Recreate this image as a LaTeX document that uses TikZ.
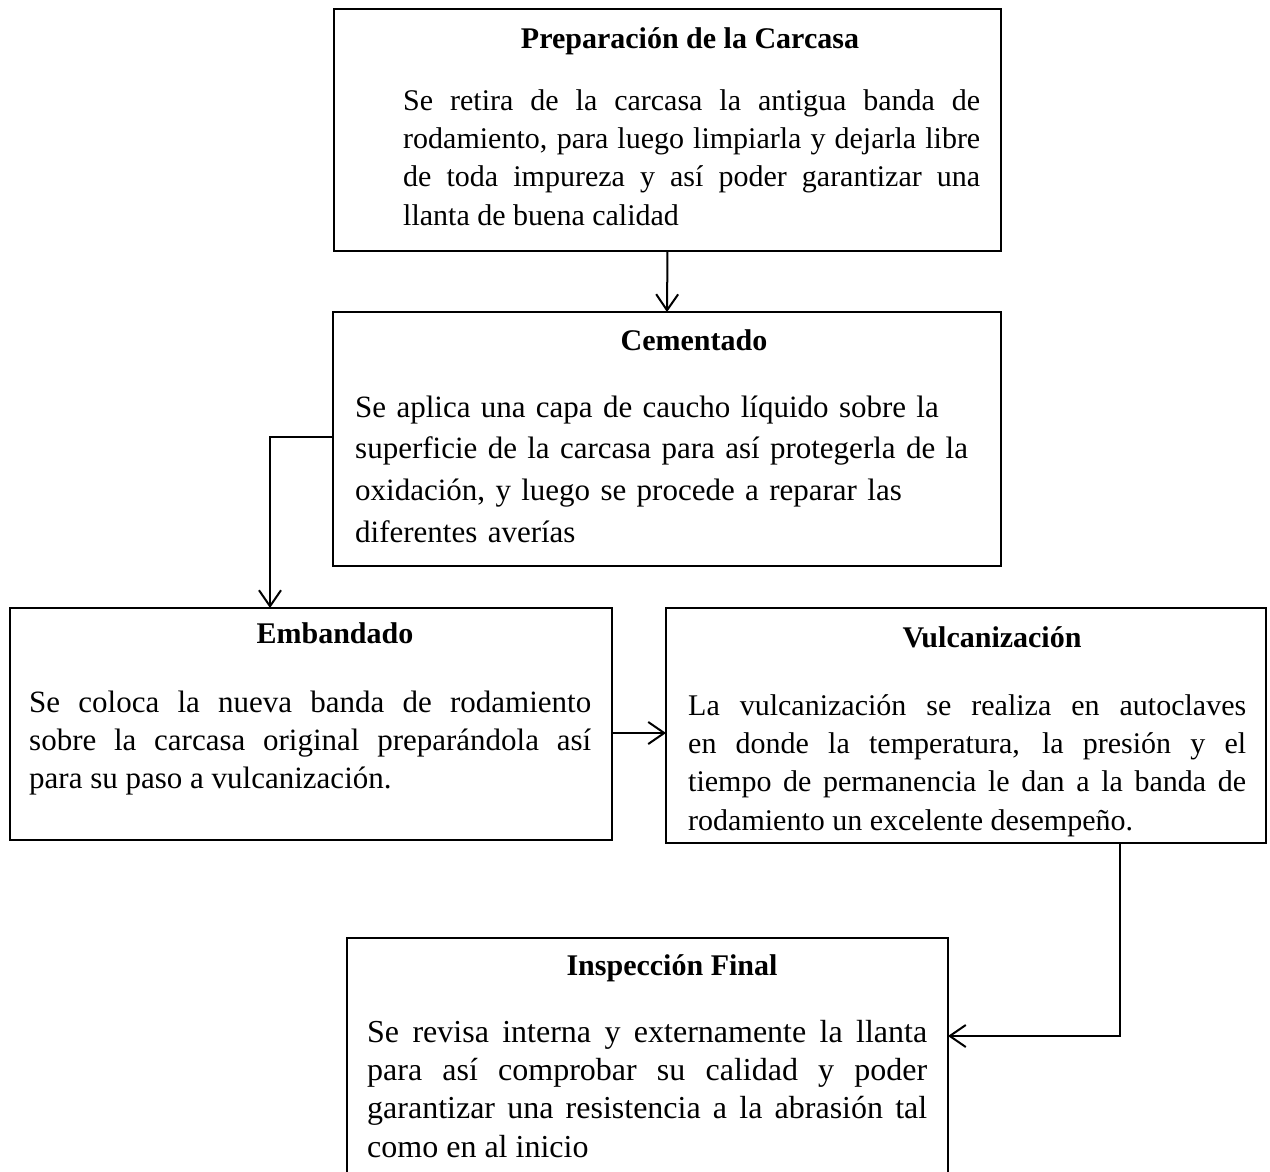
\documentclass[tikz,border=0pt]{standalone}
\usepackage{fontspec}
\setmainfont{Liberation Serif}
\usetikzlibrary{arrows.meta}
\begin{document}
\begin{tikzpicture}[x=1pt,y=-1pt,
  box/.style={draw, line width=2pt, rectangle, inner sep=0pt, outer sep=0pt, anchor=north west},
  ttl/.style={font=\fontsize{30}{36}\selectfont\bfseries, anchor=base, inner sep=0pt},
  bodyj/.style={anchor=north west, inner sep=0pt, align=justify},
  bodyl/.style={anchor=north west, inner sep=0pt, align=left},
  conn/.style={line width=2pt, -{Straight Barb[length=16pt,width=22pt,line width=2pt]}}]
\useasboundingbox (0,0) rectangle (1270,1171);

% boxes
\node[box, minimum width=667pt, minimum height=242pt] (prep) at (334,9) {};
\node[box, minimum width=668pt, minimum height=254pt] (cem) at (333,312) {};
\node[box, minimum width=602pt, minimum height=232pt] (emb) at (10,608) {};
\node[box, minimum width=600pt, minimum height=235pt] (vul) at (666,608) {};
\node[box, minimum width=601pt, minimum height=250pt] (insp) at (347,938) {};

% titles
\node[ttl] (prepH) at (690,48) {Preparación de la Carcasa};
\node[ttl] (cemH) at (694,350) {Cementado};
\node[ttl] (embH) at (335,643) {Embandado};
\node[ttl] (vulH) at (992,647) {Vulcanización};
\node[ttl] (inspH) at (672,975) {Inspección Final};

% bodies
\node[bodyj, text width=577pt, font=\fontsize{30}{38.4}\selectfont] (prepB) at (403,83.1)
  {\strut Se retira de la carcasa la antigua banda de\linebreak
   rodamiento, para luego limpiarla y dejarla libre\linebreak
   de toda impureza y así poder garantizar una\linebreak
   llanta de buena calidad};
\node[bodyl, text width=640pt, font=\fontsize{31}{41.7}\selectfont] (cemB) at (355,387.8)
  {\strut Se aplica una capa de caucho líquido sobre la\\
   superficie de la carcasa para así protegerla de la\\
   oxidación, y luego se procede a reparar las\\
   diferentes averías};
\node[bodyj, text width=562pt, font=\fontsize{31}{38}\selectfont] (embB) at (29,685.4)
  {\strut Se coloca la nueva banda de rodamiento\linebreak
   sobre la carcasa original preparándola así\linebreak
   para su paso a vulcanización.};
\node[bodyj, text width=558pt, font=\fontsize{30}{38.4}\selectfont] (vulB) at (688,688.1)
  {\strut La vulcanización se realiza en autoclaves\linebreak
   en donde la temperatura, la presión y el\linebreak
   tiempo de permanencia le dan a la banda de\linebreak
   rodamiento un excelente desempeño.};
\node[bodyj, text width=560pt, font=\fontsize{32}{38.3}\selectfont] (inspB) at (367,1015.2)
  {\strut Se revisa interna y externamente la llanta\linebreak
   para así comprobar su calidad y poder\linebreak
   garantizar una resistencia a la abrasión tal\linebreak
   como en al inicio};

% connectors
\draw[conn] (prep.south) -- (cem.north);
\coordinate (c1) at (270,437);
\draw[conn] (c1 -| cem.west) -- (c1) -- (c1 |- emb.north);
\coordinate (c2) at (640,733);
\draw[conn] (c2 -| emb.east) -- (c2 -| vul.west);
\coordinate (c3) at (1120,1036);
\draw[conn] (c3 |- vul.south) -- (c3) -- (c3 -| insp.east);
\end{tikzpicture}
\end{document}
